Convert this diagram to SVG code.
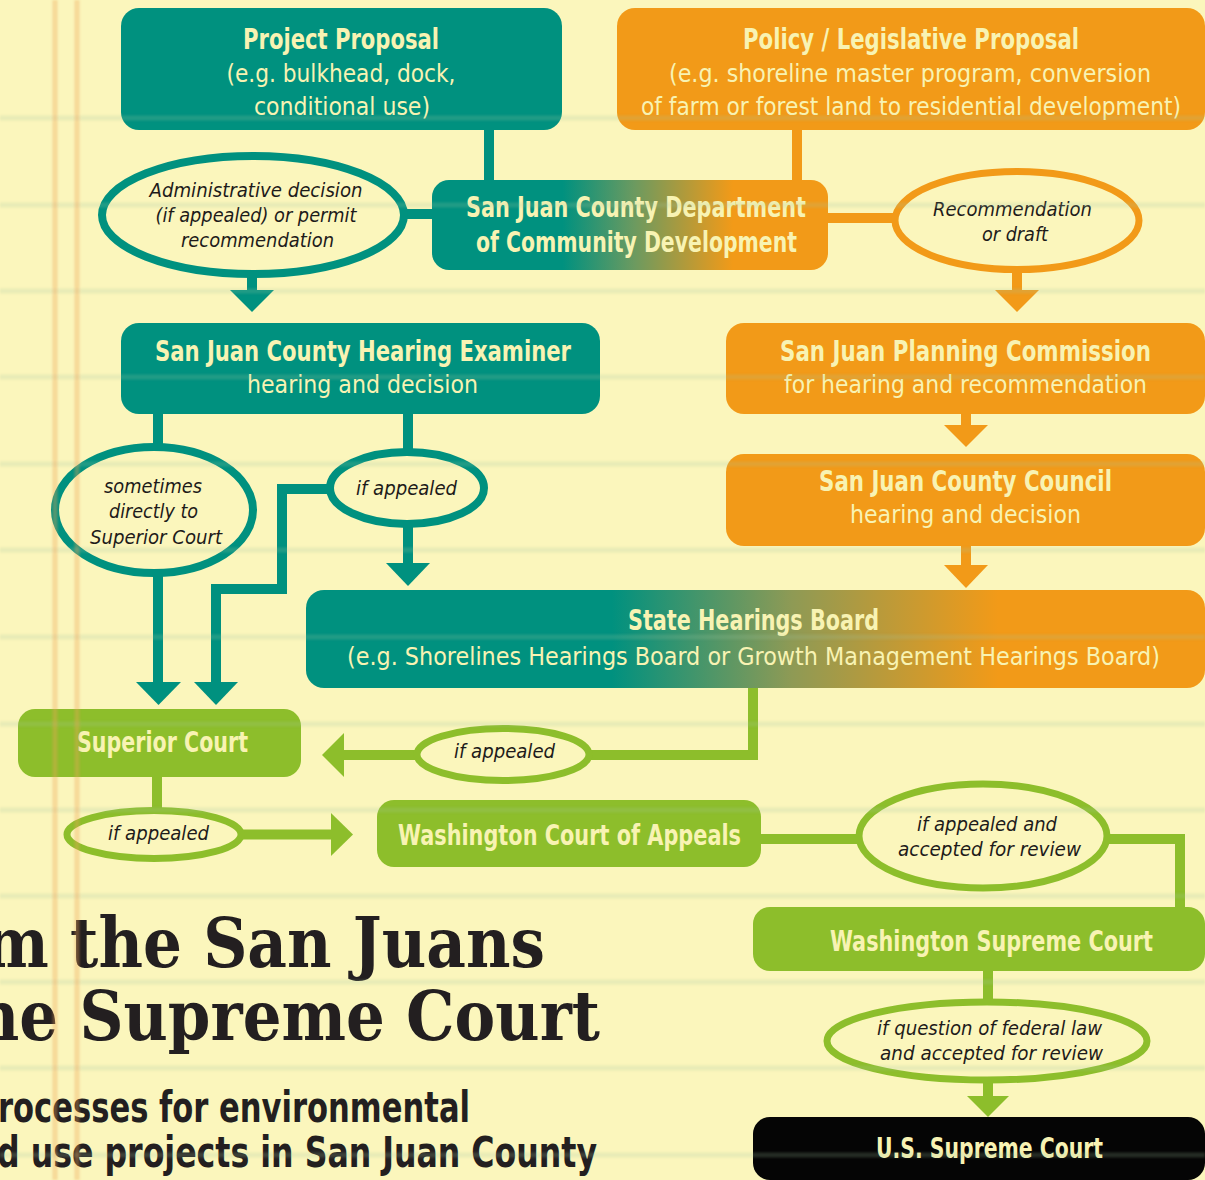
<svg xmlns="http://www.w3.org/2000/svg" width="1205" height="1180" viewBox="0 0 1205 1180">
<defs>
<style>
.bg{fill:#FBF6BC}
.teal{fill:#00917F}
.orange{fill:#F29A18}
.green{fill:#8DBE2B}
.black{fill:#050505}
.ct{stroke:#00917F;stroke-width:10;fill:none}
.co{stroke:#F29A18;stroke-width:10;fill:none}
.cg{stroke:#8DBE2B;stroke-width:10;fill:none}
.ht{fill:#00917F}
.ho{fill:#F29A18}
.hg{fill:#8DBE2B}
.et{fill:#FBF6BC;stroke:#00917F;stroke-width:8}
.eo{fill:#FBF6BC;stroke:#F29A18;stroke-width:7}
.eg{fill:#FBF6BC;stroke:#8DBE2B;stroke-width:7}
text{font-family:"Liberation Sans Narrow","DejaVu Sans Condensed","Roboto",sans-serif;text-anchor:middle}
.b{font-weight:bold;font-size:28px;fill:#F8F3B3}
.r{font-size:25px;fill:#F8F3B3}
.i{font-style:italic;font-size:20px;fill:#1E1B1A}
.title{font-family:"DejaVu Serif","Liberation Serif",serif;font-weight:bold;font-size:70px;fill:#231F20;text-anchor:end}
.sub{font-weight:bold;font-size:42px;fill:#231F20;text-anchor:end}
.pl{stroke:#A3C29E;stroke-width:5;opacity:0.2}
.ml{stroke:#F0A458;stroke-width:5;opacity:0.35}
</style>
<linearGradient id="gDCD" x1="0" y1="0" x2="1" y2="0">
<stop offset="0.33" stop-color="#00917F"/>
<stop offset="0.51" stop-color="#6B9A60"/>
<stop offset="0.76" stop-color="#F29A18"/>
</linearGradient>
<linearGradient id="gSHB" x1="0" y1="0" x2="1" y2="0">
<stop offset="0.34" stop-color="#00917F"/>
<stop offset="0.54" stop-color="#8E9A55"/>
<stop offset="0.77" stop-color="#F29A18"/>
</linearGradient>
<filter id="soft" x="-1%" y="-50%" width="102%" height="200%"><feGaussianBlur stdDeviation="1.2"/></filter>
</defs>

<rect class="bg" x="0" y="0" width="1205" height="1180"/>

<g id="connectors">
<line class="ct" x1="489" y1="128" x2="489" y2="182"/>
<line class="ct" x1="402" y1="214" x2="434" y2="214"/>
<line class="ct" x1="252" y1="272" x2="252" y2="292"/>
<polygon class="ht" points="230,290 274,290 252,312"/>
<line class="ct" x1="158" y1="411" x2="158" y2="449"/>
<line class="ct" x1="158" y1="571" x2="158" y2="684"/>
<polygon class="ht" points="136,682 181,682 158.5,705"/>
<line class="ct" x1="408" y1="411" x2="408" y2="454"/>
<line class="ct" x1="408" y1="522" x2="408" y2="565"/>
<polygon class="ht" points="386,563 430,563 408,586"/>
<path class="ct" d="M332,489 H282 V589 H216 V684"/>
<polygon class="ht" points="194,682 238,682 216,705"/>
<line class="co" x1="797" y1="128" x2="797" y2="182"/>
<line class="co" x1="826" y1="218" x2="897" y2="218"/>
<line class="co" x1="1017" y1="268" x2="1017" y2="292"/>
<polygon class="ho" points="995,290 1039,290 1017,312"/>
<line class="co" x1="966" y1="411" x2="966" y2="427"/>
<polygon class="ho" points="944,425 988,425 966,447"/>
<line class="co" x1="966" y1="543" x2="966" y2="567"/>
<polygon class="ho" points="944,565 988,565 966,588"/>
<path class="cg" d="M753,686 V755 H588"/>
<line class="cg" x1="418" y1="755" x2="340" y2="755"/>
<polygon class="hg" points="344,733 344,777 322,755"/>
<line class="cg" x1="157" y1="774" x2="157" y2="812"/>
<line class="cg" x1="240" y1="834.5" x2="333" y2="834.5"/>
<polygon class="hg" points="331,813 331,856 353,834.5"/>
<line class="cg" x1="759" y1="839" x2="861" y2="839"/>
<path class="cg" d="M1105,839 H1180 V910"/>
<line class="cg" x1="988" y1="969" x2="988" y2="1004"/>
<line class="cg" x1="988" y1="1078" x2="988" y2="1098"/>
<polygon class="hg" points="967,1096 1009,1096 988,1117"/>
</g>

<g id="project-proposal">
<rect class="teal" x="121" y="8" width="441" height="122" rx="18"/>
<text class="b" x="341" y="49" textLength="196" lengthAdjust="spacingAndGlyphs">Project Proposal</text>
<text class="r" x="341" y="82" textLength="229" lengthAdjust="spacingAndGlyphs">(e.g. bulkhead, dock,</text>
<text class="r" x="342" y="115" textLength="176" lengthAdjust="spacingAndGlyphs">conditional use)</text>
</g>

<g id="policy-proposal">
<rect class="orange" x="617" y="8" width="588" height="122" rx="18"/>
<text class="b" x="911" y="49" textLength="336" lengthAdjust="spacingAndGlyphs">Policy / Legislative Proposal</text>
<text class="r" x="910" y="82" textLength="482" lengthAdjust="spacingAndGlyphs">(e.g. shoreline master  program, conversion</text>
<text class="r" x="911" y="115" textLength="540" lengthAdjust="spacingAndGlyphs">of farm or forest land to residential development)</text>
</g>

<g id="dcd">
<rect fill="url(#gDCD)" x="432" y="180" width="396" height="90" rx="17"/>
<text class="b" x="636" y="217" textLength="340" lengthAdjust="spacingAndGlyphs">San Juan County Department</text>
<text class="b" x="636.5" y="252" textLength="321" lengthAdjust="spacingAndGlyphs">of Community Development</text>
</g>

<g id="label-admin">
<ellipse class="et" cx="253" cy="215" rx="151" ry="59"/>
<text class="i" x="256" y="197" textLength="213" lengthAdjust="spacingAndGlyphs">Administrative decision</text>
<text class="i" x="256" y="222" textLength="201" lengthAdjust="spacingAndGlyphs">(if appealed) or permit</text>
<text class="i" x="257.5" y="247" textLength="153" lengthAdjust="spacingAndGlyphs">recommendation</text>
</g>

<g id="label-recommendation">
<ellipse class="eo" cx="1017" cy="220.5" rx="122" ry="49"/>
<text class="i" x="1012.5" y="216" textLength="159" lengthAdjust="spacingAndGlyphs">Recommendation</text>
<text class="i" x="1015" y="241" textLength="66" lengthAdjust="spacingAndGlyphs">or draft</text>
</g>

<g id="hearing-examiner">
<rect class="teal" x="121" y="323" width="479" height="91" rx="18"/>
<text class="b" x="363" y="361" textLength="416" lengthAdjust="spacingAndGlyphs">San Juan County Hearing Examiner</text>
<text class="r" x="362.5" y="393" textLength="231" lengthAdjust="spacingAndGlyphs">hearing and decision</text>
</g>

<g id="planning-commission">
<rect class="orange" x="726" y="323" width="479" height="91" rx="18"/>
<text class="b" x="965.5" y="361" textLength="371" lengthAdjust="spacingAndGlyphs">San Juan Planning Commission</text>
<text class="r" x="965.5" y="393" textLength="363" lengthAdjust="spacingAndGlyphs">for hearing and recommendation</text>
</g>

<g id="county-council">
<rect class="orange" x="726" y="454" width="479" height="92" rx="18"/>
<text class="b" x="965.5" y="491" textLength="293" lengthAdjust="spacingAndGlyphs">San Juan County Council</text>
<text class="r" x="965.5" y="523" textLength="231" lengthAdjust="spacingAndGlyphs">hearing and decision</text>
</g>

<g id="label-sometimes">
<ellipse class="et" cx="154" cy="510" rx="99" ry="63"/>
<text class="i" x="153" y="493" textLength="98" lengthAdjust="spacingAndGlyphs">sometimes</text>
<text class="i" x="153.5" y="518" textLength="89" lengthAdjust="spacingAndGlyphs">directly to</text>
<text class="i" x="156" y="544" textLength="132" lengthAdjust="spacingAndGlyphs">Superior Court</text>
</g>

<g id="label-he-appealed">
<ellipse class="et" cx="407" cy="488" rx="77" ry="36"/>
<text class="i" x="406.5" y="495" textLength="101" lengthAdjust="spacingAndGlyphs">if appealed</text>
</g>

<g id="state-hearings-board">
<rect fill="url(#gSHB)" x="306" y="590" width="899" height="98" rx="18"/>
<text class="b" x="753.5" y="630" textLength="251" lengthAdjust="spacingAndGlyphs">State Hearings Board</text>
<text class="r" x="753.5" y="665" textLength="813" lengthAdjust="spacingAndGlyphs">(e.g. Shorelines Hearings Board or Growth Management Hearings Board)</text>
</g>

<g id="superior-court">
<rect class="green" x="18" y="709" width="283" height="68" rx="17"/>
<text class="b" x="162.5" y="752" textLength="171" lengthAdjust="spacingAndGlyphs">Superior Court</text>
</g>

<g id="label-shb-appealed">
<ellipse class="eg" cx="503" cy="754.5" rx="86" ry="26"/>
<text class="i" x="504.5" y="758" textLength="101" lengthAdjust="spacingAndGlyphs">if appealed</text>
</g>

<g id="label-sc-appealed">
<ellipse class="eg" cx="154" cy="834.5" rx="87" ry="24"/>
<text class="i" x="158.5" y="840" textLength="101" lengthAdjust="spacingAndGlyphs">if appealed</text>
</g>

<g id="court-of-appeals">
<rect class="green" x="377" y="800" width="384" height="67" rx="17"/>
<text class="b" x="569.5" y="845" textLength="343" lengthAdjust="spacingAndGlyphs">Washington Court of Appeals</text>
</g>

<g id="label-accepted">
<ellipse class="eg" cx="983" cy="836" rx="124" ry="52"/>
<text class="i" x="987" y="831" textLength="140" lengthAdjust="spacingAndGlyphs">if appealed and</text>
<text class="i" x="989.5" y="856" textLength="183" lengthAdjust="spacingAndGlyphs">accepted for review</text>
</g>

<g id="wa-supreme-court">
<rect class="green" x="753" y="907" width="452" height="64" rx="17"/>
<text class="b" x="991.5" y="951" textLength="323" lengthAdjust="spacingAndGlyphs">Washington Supreme Court</text>
</g>

<g id="label-federal">
<ellipse class="eg" cx="987" cy="1041" rx="160" ry="39"/>
<text class="i" x="989.5" y="1035" textLength="225" lengthAdjust="spacingAndGlyphs">if question of federal law</text>
<text class="i" x="991.5" y="1060" textLength="223" lengthAdjust="spacingAndGlyphs">and accepted for review</text>
</g>

<g id="us-supreme-court">
<rect class="black" x="753" y="1117" width="452" height="63" rx="17"/>
<text class="b" x="989.5" y="1158" textLength="227" lengthAdjust="spacingAndGlyphs">U.S. Supreme Court</text>
</g>

<g id="title">
<text class="title" x="545" y="967" textLength="561" lengthAdjust="spacingAndGlyphs">m the San Juans</text>
<text class="title" x="600" y="1040" textLength="625" lengthAdjust="spacingAndGlyphs">ne Supreme Court</text>
<text class="sub" x="470" y="1122" textLength="472" lengthAdjust="spacingAndGlyphs">rocesses for environmental</text>
<text class="sub" x="597" y="1167" textLength="600" lengthAdjust="spacingAndGlyphs">d use projects in San Juan County</text>
</g>

<g id="paper-lines" filter="url(#soft)">
<line class="pl" x1="0" y1="118" x2="1205" y2="118"/>
<line class="pl" x1="0" y1="205" x2="1205" y2="205"/>
<line class="pl" x1="0" y1="291" x2="1205" y2="291"/>
<line class="pl" x1="0" y1="377" x2="1205" y2="377"/>
<line class="pl" x1="0" y1="464" x2="1205" y2="464"/>
<line class="pl" x1="0" y1="550" x2="1205" y2="550"/>
<line class="pl" x1="0" y1="637" x2="1205" y2="637"/>
<line class="pl" x1="0" y1="724" x2="1205" y2="724"/>
<line class="pl" x1="0" y1="810" x2="1205" y2="810"/>
<line class="pl" x1="0" y1="896" x2="1205" y2="896"/>
<line class="pl" x1="0" y1="982" x2="1205" y2="982"/>
<line class="pl" x1="0" y1="1068" x2="1205" y2="1068"/>
<line class="pl" x1="0" y1="1155" x2="1205" y2="1155"/>
<line class="ml" x1="55" y1="0" x2="55" y2="1180"/>
<line class="ml" x1="77" y1="0" x2="77" y2="1180"/>
</g>
</svg>
